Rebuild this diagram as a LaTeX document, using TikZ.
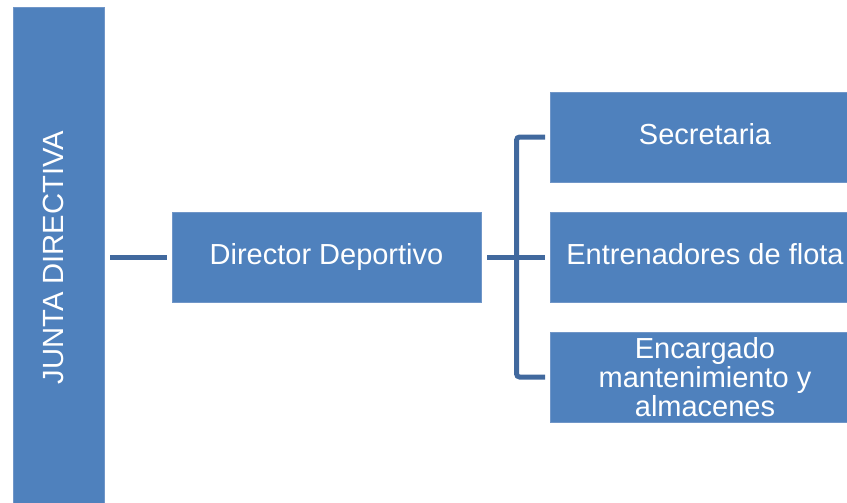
\documentclass[tikz,border=0pt]{standalone}
\usepackage{fontspec}
\setmainfont{Liberation Sans}
\usetikzlibrary{calc}
\definecolor{boxfill}{HTML}{4F81BD}
\definecolor{boxedge}{HTML}{7096C8}
\definecolor{connc}{HTML}{41699E}
\begin{document}
\begin{tikzpicture}[x=0.5pt,y=-0.5pt,
  boxbase/.style={fill=boxfill, draw=boxedge, line width=0.4pt, text=white,
    font=\fontsize{14.5}{14.5}\selectfont, minimum width=154.5pt, minimum height=45pt,
    inner sep=0pt, align=center},
  box/.style={boxbase, text height=10.44pt, text depth=2.9pt},
  conn/.style={draw=connc, line width=2.5pt}]
\useasboundingbox (0,0) rectangle (847,503);
\clip (0,0) rectangle (847,503);
\node[boxbase, minimum width=45.5pt, minimum height=256.5pt, anchor=north west] (junta) at (13,7) {};
\node[rotate=90, anchor=base, text=white, inner sep=0pt, font=\fontsize{14.6}{14.6}\selectfont] (juntatext) at (63,257.5) {JUNTA DIRECTIVA};
\node[box] (dir) at (326.5,257) {Director Deportivo};
\node[box] (sec) at (705,137) {Secretaria};
\node[box] (ent) at (705,257) {Entrenadores de flota};
\node[boxbase] (enc) at (705,377) {Encargado\\mantenimiento y\\almacenes};
\draw[conn] ($(junta.east |- dir.west)+(5.5,0)$) -- ($(dir.west)+(-5,0)$);
\draw[conn] ($(dir.east)+(6,0)$) -- ($(ent.west)+(-5,0)$);
\coordinate (bx) at ($(ent.west)+(-33.5,0)$);
\draw[conn, rounded corners=1.5pt] ($(sec.west)+(-5,0)$) -- (bx |- sec.west) -- (bx |- enc.west) -- ($(enc.west)+(-5,0)$);
\end{tikzpicture}
\end{document}
